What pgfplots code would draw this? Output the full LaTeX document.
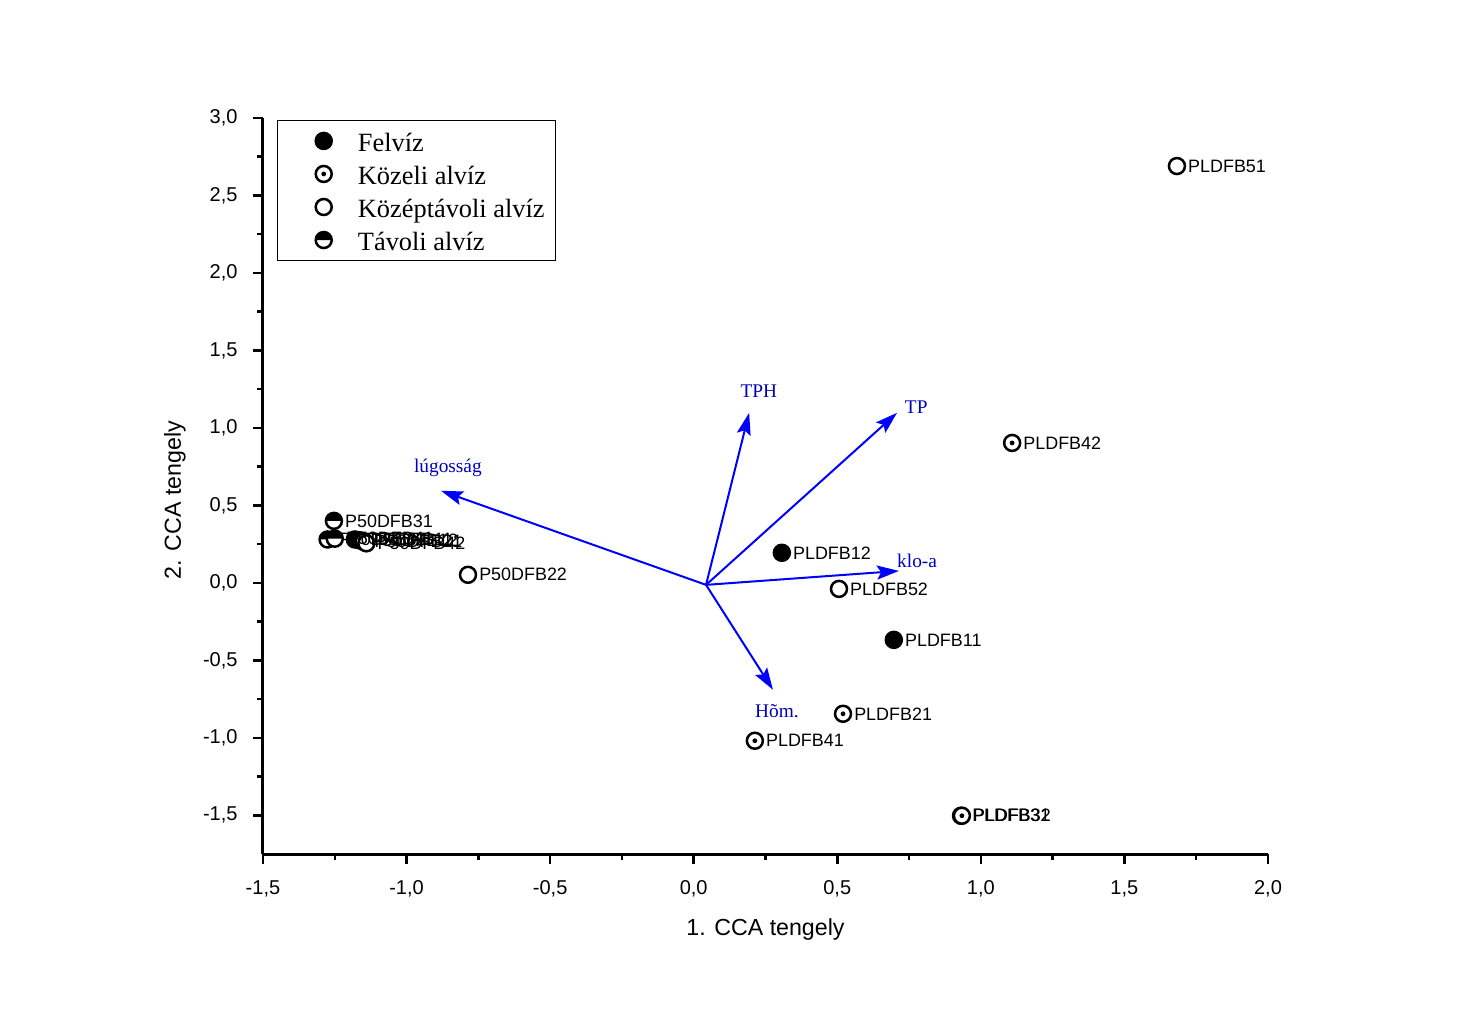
\documentclass[border=0pt]{standalone}
\usepackage{pgfplots}
\pgfplotsset{compat=1.18}
\usepackage{fontspec}
\setmainfont{Liberation Serif}
\newfontfamily\arial{Liberation Sans}
\usetikzlibrary{arrows.meta}

\pgfdeclareplotmark{halfc}{%
  \pgfpathcircle{\pgfpointorigin}{\pgfplotmarksize}%
  \pgfsetfillcolor{white}\pgfusepath{fill}%
  \pgfpathmoveto{\pgfqpoint{\pgfplotmarksize}{0pt}}%
  \pgfpatharc{0}{180}{\pgfplotmarksize}%
  \pgfpathclose
  \pgfsetfillcolor{black}\pgfusepath{fill}%
  \pgfpathcircle{\pgfpointorigin}{\pgfplotmarksize}\pgfusepath{stroke}}
\pgfdeclareplotmark{dotc}{%
  \pgfpathcircle{\pgfpointorigin}{\pgfplotmarksize}%
  \pgfsetfillcolor{white}\pgfusepath{fill,stroke}%
  \pgfpathcircle{\pgfpointorigin}{0.3\pgfplotmarksize}%
  \pgfsetfillcolor{black}\pgfusepath{fill}}
\pgfdeclareplotmark{openc}{%
  \pgfpathcircle{\pgfpointorigin}{\pgfplotmarksize}%
  \pgfsetfillcolor{white}\pgfusepath{fill,stroke}}
\pgfdeclareplotmark{fullc}{%
  \pgfpathcircle{\pgfpointorigin}{\pgfplotmarksize}%
  \pgfsetfillcolor{black}\pgfusepath{fill,stroke}}

\pgfplotstableread{
x y lab
0.307 0.194 PLDFB12
0.697 -0.368 PLDFB11
-1.180 0.280 P50DFB11
-1.165 0.275 P50DFB12
}\felviz
\pgfplotstableread{
x y lab
1.109 0.903 PLDFB42
0.520 -0.845 PLDFB21
0.213 -1.019 PLDFB41
0.931 -1.503 PLDFB31
0.934 -1.503 PLDFB32
-1.150 0.265 P50DFB21
}\kozeli
\pgfplotstableread{
x y lab
1.683 2.690 PLDFB51
0.506 -0.039 PLDFB52
-0.786 0.052 P50DFB22
-1.140 0.255 P50DFB42
}\kozep
\pgfplotstableread{
x y lab
-1.253 0.400 P50DFB31
-1.275 0.280 P50DFB32
-1.250 0.285 P50DFB41
}\tavoli

\begin{document}
\begin{tikzpicture}
\path[use as bounding box] (0,0) rectangle (147.4mm,-102.4mm);
\begin{axis}[
  at={(26.3mm,-85.4mm)}, anchor=south west,
  scale only axis, width=100.5mm, height=73.6mm,
  xmin=-1.5, xmax=2, ymin=-1.75, ymax=3,
  axis x line*=bottom, axis y line*=left,
  xtick={-1.5,-1,...,2}, ytick={-1.5,-1,...,3},
  minor x tick num=1, minor y tick num=1,
  tick align=outside,
  major tick length=1mm, minor tick length=0.6mm,
  every tick/.style={black, line width=0.25mm},
  axis line style={line width=0.3mm},
  tick label style={font=\arial\fontsize{5.7}{6}\selectfont},
  xticklabel style={yshift=-0.4mm},
  yticklabel style={xshift=-0.3mm},
  /pgf/number format/use comma,
  /pgf/number format/fixed,
  /pgf/number format/fixed zerofill,
  /pgf/number format/precision=1,
  /pgf/number format/assume math mode=true,
  xlabel={1. CCA tengely}, ylabel={2. CCA tengely},
  label style={font=\arial\fontsize{6.6}{7}\selectfont},
  xlabel style={at={(axis description cs:0.5,-0.102)}, anchor=center},
  ylabel style={at={(axis description cs:-0.0876,0.481)}, anchor=center},
  clip=false,
  mark size=0.8mm,
  legend style={at={(axis description cs:0.0139,0.997)}, anchor=north west,
    draw=black, line width=0.1mm, inner xsep=1.1mm, inner ysep=2pt,
    font=\fontsize{7.5}{8}\selectfont, row sep=1.9pt, column sep=0pt,
    nodes={inner xsep=0pt, inner ysep=0pt, text height=6.8pt, text depth=0.7pt}},
  legend cell align=left,
  legend image code/.code={\path (-3.4mm,0) (3.3mm,0);\draw[#1] plot coordinates {(0mm,0mm)};},
  every node near coord/.style={anchor=west, inner sep=0pt, xshift=1mm, text=black,
    font=\arial\fontsize{5.1}{6}\selectfont},
  pts/.style={only marks, black, line width=0.25mm, nodes near coords, point meta=explicit symbolic},
  vec/.style={forget plot, blue, mark=none, line width=0.2mm, -{Stealth[length=2.2mm,width=1.4mm,inset=0.4mm]}},
]
\addplot[pts, mark=fullc] table[meta=lab]{\felviz};
\addlegendentry{Felvíz}
\addplot[pts, mark=dotc] table[meta=lab]{\kozeli};
\addlegendentry{Közeli alvíz}
\addplot[pts, mark=openc] table[meta=lab]{\kozep};
\addlegendentry{Középtávoli alvíz}
\addplot[pts, mark=halfc] table[meta=lab]{\tavoli};
\addlegendentry{Távoli alvíz}

\addplot[vec] coordinates {(0.043,-0.013) (0.193,1.097)};
\addplot[vec] coordinates {(0.043,-0.013) (0.708,1.097)};
\addplot[vec] coordinates {(0.043,-0.013) (0.715,0.077)};
\addplot[vec] coordinates {(0.043,-0.013) (0.276,-0.690)};
\addplot[vec] coordinates {(0.043,-0.013) (-0.880,0.594)};

\begin{scope}[every node/.style={text=blue!75!black, font=\fontsize{5.5}{6}\selectfont}]
\node at (axis cs:0.227,1.239) {TPH};
\node at (axis cs:0.775,1.135) {TP};
\node at (axis cs:0.778,0.142) {klo-a};
\node at (axis cs:0.290,-0.826) {Hõm.};
\node at (axis cs:-0.856,0.742) {lúgosság};
\end{scope}
\end{axis}
\end{tikzpicture}
\end{document}
